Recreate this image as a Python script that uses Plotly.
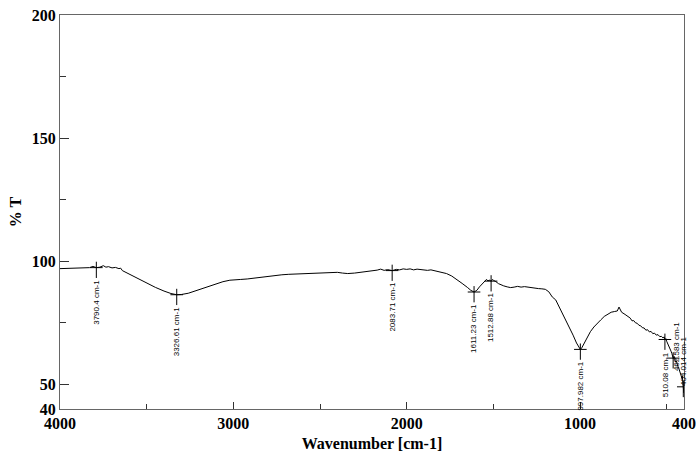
import numpy as np
import plotly.graph_objects as go

# Spectrum
wavenumber = [4000, 3960, 3920, 3880, 3850, 3830, 3810, 3790, 3770, 3750, 3735, 3720, 3700, 3680,
              3660, 3650, 3640, 3600, 3550, 3500, 3450, 3400, 3360, 3326, 3300, 3260, 3220, 3180,
              3140, 3100, 3060, 3020, 3000, 2960, 2920, 2880, 2840, 2800, 2760, 2720, 2680, 2640,
              2600, 2560, 2520, 2480, 2440, 2400, 2370, 2340, 2300, 2260, 2220, 2190, 2170, 2150,
              2130, 2110, 2083, 2060, 2040, 2020, 2000, 1980, 1960, 1940, 1920, 1900, 1880, 1860,
              1840, 1820, 1800, 1770, 1740, 1710, 1680, 1650, 1630, 1611, 1595, 1580, 1565, 1550,
              1540, 1530, 1525, 1512, 1505, 1500, 1490, 1485, 1470, 1455, 1440, 1420, 1400, 1380,
              1360, 1340, 1320, 1300, 1280, 1260, 1240, 1220, 1200, 1180, 1160, 1140, 1120, 1100,
              1080, 1060, 1040, 1020, 1005, 998, 990, 975, 960, 940, 920, 900, 880, 860, 840, 820,
              800, 785, 775, 768, 760, 740, 720, 710, 700, 690, 680, 670, 660, 650, 640, 630, 620,
              610, 600, 590, 580, 570, 560, 550, 540, 530, 520, 515, 510, 505, 500, 495, 490, 485,
              480, 475, 470, 466, 462, 458, 455, 451, 448, 444, 440, 436, 432, 428, 425, 421, 418,
              414, 412, 410, 408, 406, 404, 402, 401]
transmittance = [97.0, 97.1, 97.2, 97.3, 97.6, 97.4, 97.9, 97.4, 97.6, 98.2, 97.6, 97.8, 97.3, 97.5,
                 97.0, 97.2, 96.2, 94.8, 92.9, 91.0, 89.4, 87.9, 86.9, 86.4, 86.5, 87.0, 88.0, 89.0,
                 90.0, 90.9, 91.7, 92.3, 92.5, 92.6, 92.8, 93.2, 93.6, 94.0, 94.3, 94.5, 94.7, 94.8,
                 95.0, 95.1, 95.2, 95.3, 95.4, 95.5, 95.2, 95.0, 95.2, 95.5, 95.8, 96.0, 96.4, 96.8,
                 96.3, 96.6, 96.2, 96.7, 96.5, 96.9, 96.7, 96.9, 96.5, 96.8, 96.6, 96.7, 96.3, 96.5,
                 96.1, 95.9, 95.6, 95.0, 94.0, 92.6, 91.0, 89.4, 88.2, 87.5, 88.2, 89.6, 90.9, 92.0,
                 92.6, 92.0, 92.4, 91.9, 92.6, 92.3, 92.0, 91.7, 90.9, 90.3, 90.0, 89.6, 89.3, 89.5,
                 89.8, 89.5, 89.7, 89.5, 89.4, 89.1, 88.9, 88.8, 88.6, 87.6, 85.5, 84.3, 81.5, 78.3,
                 75.8, 73.0, 70.0, 66.8, 64.8, 64.2, 64.8, 66.8, 69.0, 71.4, 73.3, 74.9, 76.2, 77.6,
                 78.6, 79.3, 79.6, 79.8, 81.4, 80.3, 79.3, 78.4, 77.3, 76.9, 75.8, 75.9, 75.0, 74.8,
                 74.0, 73.8, 73.0, 72.9, 72.0, 72.2, 71.3, 71.5, 70.6, 70.8, 70.0, 70.2, 69.4, 69.5,
                 68.8, 69.3, 68.2, 68.6, 67.5, 66.8, 66.0, 65.2, 64.0, 63.5, 62.5, 61.6, 60.5, 61.4,
                 61.2, 59.8, 59.0, 59.6, 58.2, 57.4, 57.0, 56.2, 55.5, 55.0, 54.0, 53.2, 52.5, 53.5,
                 51.0, 50.2, 49.0, 48.0, 46.5]

# Peak picks
peak_positions = [3790.4, 3326.61, 2083.71, 1611.23, 1512.88, 997.982, 510.08, 462.583, 404.014]
peak_labels = ["3790.4 cm-1", "3326.61 cm-1", "2083.71 cm-1", "1611.23 cm-1", "1512.88 cm-1",
               "997.982 cm-1", "510.08 cm-1", "462.583 cm-1", "404.014 cm-1"]
label_yshift = [0, 0, 0, 0, 0, 0, 0, 48, 62]
label_xshift = [0, 0, 0, 0, 0, 0, 0, 4, 0]

x_tickvals = [4000, 3000, 2000, 1000, 400]
x_minor = [3500, 2500, 1500, 500]
y_tickvals = [40, 50, 100, 150, 200]
y_minor = [75, 125, 175]

MARK_UP = 2.4
MARK_DOWN = 4.2

wn_sorted = np.array(wavenumber[::-1], dtype=float)
t_sorted = np.array(transmittance[::-1], dtype=float)
peak_t = np.interp(peak_positions, wn_sorted, t_sorted)

fig = go.Figure()
fig.add_trace(go.Scatter(x=wavenumber, y=transmittance, mode="lines",
                         line=dict(color="black", width=1), showlegend=False, hoverinfo="skip"))

seg_x, seg_y = [], []
for p, t in zip(peak_positions, peak_t):
    seg_x += [p, p, None]
    seg_y += [t + MARK_UP, t - MARK_DOWN, None]
fig.add_trace(go.Scatter(x=seg_x, y=seg_y, mode="lines", line=dict(color="black", width=1),
                         showlegend=False, hoverinfo="skip"))
fig.add_trace(go.Scatter(x=peak_positions, y=peak_t, mode="markers",
                         marker=dict(symbol="line-ew", size=9, line=dict(color="black", width=1)),
                         showlegend=False, hoverinfo="skip"))

for p, t, lab, ys, xs in zip(peak_positions, peak_t, peak_labels, label_yshift, label_xshift):
    fig.add_annotation(x=p, y=t - MARK_DOWN, text=lab, showarrow=False, textangle=-90,
                       xanchor="center", yanchor="top", yshift=ys, xshift=xs,
                       font=dict(family="Liberation Sans Narrow, Liberation Sans", size=8, color="black"))

tick_font = dict(family="Liberation Serif", size=16, color="black", weight="bold")
axis_common = dict(showline=True, linecolor="#666666", linewidth=1.3, mirror=True,
                   ticks="inside", tickcolor="#333333", showgrid=False, zeroline=False,
                   tickfont=tick_font, automargin=False)

fig.update_xaxes(range=[4000, 400], tickvals=x_tickvals, ticklen=7,
                 minor=dict(tickvals=x_minor, ticklen=5, ticks="inside", tickcolor="#333333"),
                 title=dict(text="Wavenumber [cm-1]", font=tick_font, standoff=8),
                 **axis_common)
fig.update_yaxes(range=[40, 200], tickvals=y_tickvals, ticklen=9,
                 minor=dict(tickvals=y_minor, ticklen=6, ticks="inside", tickcolor="#333333"),
                 title=dict(text="% T", font=tick_font, standoff=6),
                 **axis_common)

fig.update_layout(width=696, height=452, margin=dict(l=60, r=12, t=15, b=43),
                  paper_bgcolor="white", plot_bgcolor="white")

fig.write_html("out.html", config={"displayModeBar": False},
               post_script="document.body.style.margin='0';document.body.style.overflow='hidden';")
